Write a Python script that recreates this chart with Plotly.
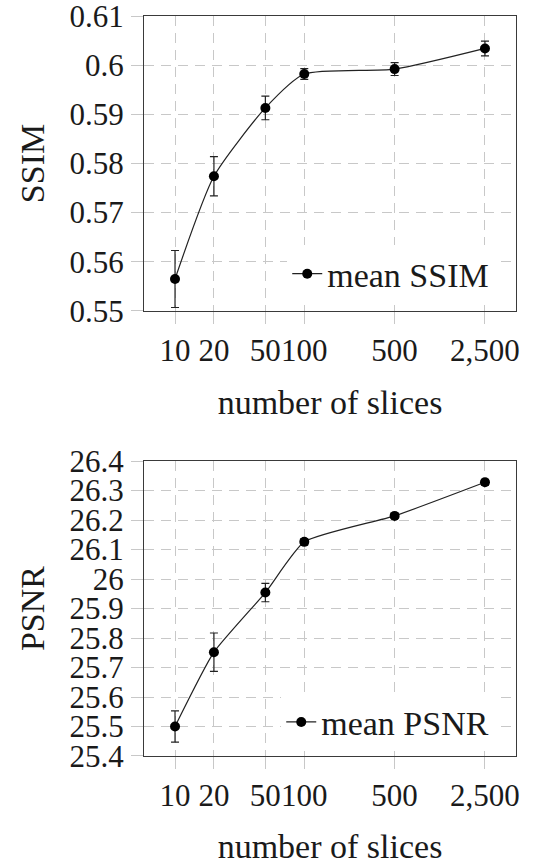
import plotly.graph_objects as go

# ---- data ----
slices = [10, 20, 50, 100, 500, 2500]
x_tick_text = ["10", "20", "50", "100", "500", "2,500"]

ssim_mean = [0.5565, 0.5774, 0.5913, 0.5982, 0.5992, 0.6034]
ssim_err = [0.0058, 0.0040, 0.0024, 0.0011, 0.0013, 0.0015]
ssim_ticks = [0.55, 0.56, 0.57, 0.58, 0.59, 0.60, 0.61]
ssim_tick_text = ["0.55", "0.56", "0.57", "0.58", "0.59", "0.6", "0.61"]

psnr_mean = [25.500, 25.752, 25.954, 26.126, 26.214, 26.328]
psnr_err = [0.053, 0.065, 0.031, 0.010, 0.008, 0.010]
psnr_ticks = [25.4, 25.5, 25.6, 25.7, 25.8, 25.9, 26.0, 26.1, 26.2, 26.3, 26.4]
psnr_tick_text = ["25.4", "25.5", "25.6", "25.7", "25.8", "25.9", "26", "26.1", "26.2", "26.3", "26.4"]

FONT = "Liberation Serif"
GRID = "#c8c8c8"
FRAME = "#3a3a3a"
TXT = "#1a1a1a"

fig = go.Figure()

fig.add_trace(go.Scatter(
    x=slices, y=ssim_mean, name="mean SSIM", mode="lines+markers",
    line=dict(color="#222222", width=1.2, shape="spline", smoothing=0.6),
    marker=dict(color="black", size=10),
    error_y=dict(type="data", array=ssim_err, color="#222222", thickness=1.2, width=4),
    xaxis="x", yaxis="y", legend="legend",
))
fig.add_trace(go.Scatter(
    x=slices, y=psnr_mean, name="mean PSNR", mode="lines+markers",
    line=dict(color="#222222", width=1.2, shape="spline", smoothing=0.5),
    marker=dict(color="black", size=10),
    error_y=dict(type="data", array=psnr_err, color="#222222", thickness=1.2, width=4),
    xaxis="x2", yaxis="y2", legend="legend2",
))

xrange = [0.76, 3.638]
common_x = dict(
    type="log", range=xrange, tickmode="array", tickvals=slices, ticktext=x_tick_text,
    tickangle=0, showgrid=True, gridcolor=GRID, griddash="10px,7px", gridwidth=1,
    ticks="outside", ticklen=12, tickcolor=GRID, tickwidth=1, automargin=False,
    ticklabeloverflow="allow",
    showline=True, linecolor=FRAME, linewidth=1.2, mirror=True, zeroline=False,
    tickfont=dict(family=FONT, size=31, color=TXT),
    title=dict(text="number of slices", font=dict(family=FONT, size=34, color=TXT), standoff=22),
)
common_y = dict(
    showgrid=True, gridcolor=GRID, griddash="10px,7px", gridwidth=1,
    ticks="outside", ticklen=12, tickcolor=GRID, tickwidth=1, automargin=False,
    ticklabeloverflow="allow", ticklabelstandoff=1,
    showline=True, linecolor=FRAME, linewidth=1.2, mirror=True, zeroline=False,
    tickfont=dict(family=FONT, size=31, color=TXT),
)

fig.update_layout(
    width=537, height=865,
    margin=dict(l=144, r=21, t=16, b=109, autoexpand=False),
    paper_bgcolor="white", plot_bgcolor="white",
    font=dict(family=FONT, color=TXT),
    xaxis=dict(domain=[0, 1], anchor="y", **common_x),
    xaxis2=dict(domain=[0, 1], anchor="y2", **common_x),
    yaxis=dict(domain=[0.6014, 1.0], anchor="x", range=[0.55, 0.61], tickmode="array",
               tickvals=ssim_ticks, ticktext=ssim_tick_text,
               title=dict(text="SSIM", font=dict(family=FONT, size=34, color=TXT), standoff=14),
               **common_y),
    yaxis2=dict(domain=[0.0, 0.3986], anchor="x2", range=[25.4, 26.4], tickmode="array",
                tickvals=psnr_ticks, ticktext=psnr_tick_text,
                title=dict(text="PSNR", font=dict(family=FONT, size=34, color=TXT), standoff=14),
                **common_y),
    legend=dict(x=0.9415, y=0.612, xanchor="right", yanchor="bottom", bgcolor="white",
                borderwidth=0, font=dict(family=FONT, size=34, color=TXT)),
    legend2=dict(x=0.9415, y=0.0063, xanchor="right", yanchor="bottom", bgcolor="white",
                 borderwidth=0, font=dict(family=FONT, size=34, color=TXT)),
    showlegend=True,
)

fig.write_html("out.html", config={"displayModeBar": False},
               post_script="document.body.style.margin='0px';")
